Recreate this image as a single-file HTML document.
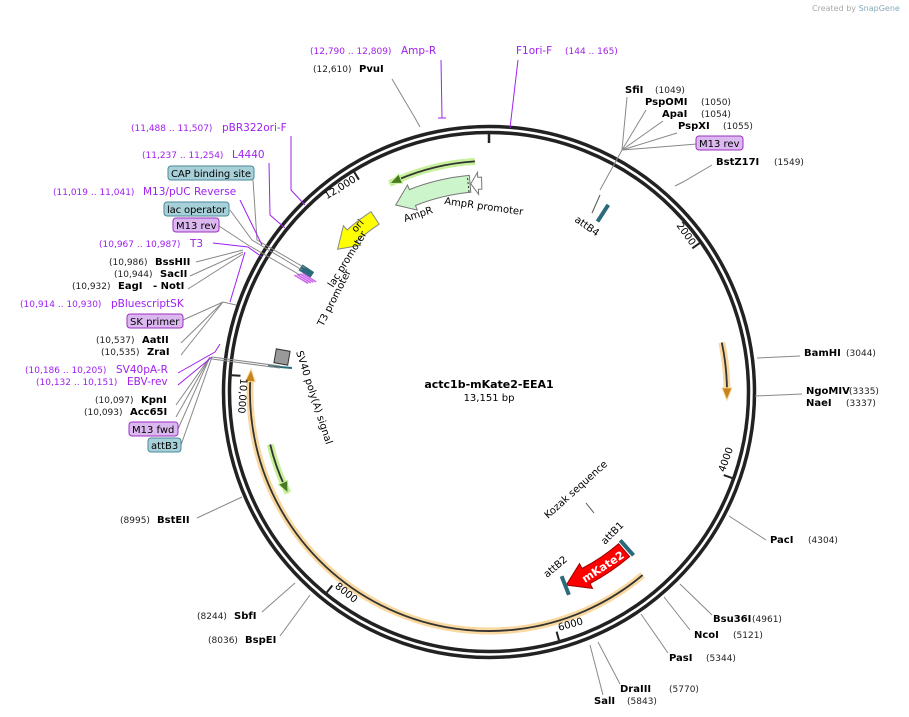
<!DOCTYPE html>
<html><head><meta charset="utf-8"><style>
body{margin:0;background:#fff;}
svg{display:block;font-family:"DejaVu Sans","Liberation Sans",sans-serif;}
.b{font-weight:bold;font-size:10px;fill:#000}
.n{font-size:9px;fill:#222}
.p{font-size:10.5px;fill:#a020f0}
.q{font-size:9px;fill:#a020f0}
.i{font-size:10px;fill:#000}
.t{font-size:10px;fill:#000}
</style></head><body>
<svg id="s" width="909" height="717" viewBox="0 0 909 717" xmlns="http://www.w3.org/2000/svg">
<text x="812" y="11" style="font-size:8px;fill:#aaa">Created by <tspan style="fill:#8ab">SnapGene</tspan></text>
<g id="feat"></g>
<circle cx="489" cy="392" r="265.5" fill="none" stroke="#222" stroke-width="3.5"/>
<circle cx="489" cy="392" r="259.5" fill="none" stroke="#222" stroke-width="3.5"/>
<g id="ticks"></g>
<g stroke="#888" stroke-width="1" fill="none">
<path d="M622 150 L627 97 M622 150 L646 110 M622 150 L663 121 M622 150 L677 133 M622 150 L697 144 M622 150 L600 190"/>
<path d="M675 186 L683 182 L712 165"/>
<path d="M757 358 L800 356"/>
<path d="M755 396 L802 394"/>
<path d="M729 516 L766 540"/>
<path d="M680 584 L712 615"/>
<path d="M664 597 L690 630"/>
<path d="M641 614 L668 653"/>
<path d="M598 642 L620 684"/>
<path d="M590 645 L603 695"/>
<path d="M420 127 L415 118 L392 79"/>
<path d="M242 497 L197 518"/>
<path d="M295 583 L262 612"/>
<path d="M310 595 L280 636"/>
<path d="M253 180 L257 240 L305 268 M230 210 L252 240 L302 270 M219 226 L248 245 L300 275"/>
<path d="M196 262 L243 250 M190 276 L243 252 M188 289 L243 254"/>
<path d="M183 320 L223 302 L236 305"/>
<path d="M181 343 L223 302 M181 355 L223 302"/>
<path d="M176 405 L210 357 M176 417 L210 357 M178 429 L210 357 M181 445 L212 357"/>
<path d="M212 357 L280 366 M212 359 L280 368"/>
</g>
<g stroke="#a020f0" stroke-width="1" fill="none">
<path d="M441 60 L442 118 M438 118 L446 118"/>
<path d="M518 60 L510 128"/>
<path d="M291 136 L291 190 L305 205"/>
<path d="M269 163 L270 215 L285 228"/>
<path d="M240 200 L262 245 M213 243 L248 247 L262 257 M230 302 L245 252"/>
<path d="M178 373 L215 352 L220 344 M178 385 L212 357"/>
</g>
<text x="625" y="93" class="b">SfiI</text><text x="655" y="93" class="n">(1049)</text>
<text x="645" y="105" class="b">PspOMI</text><text x="701" y="105" class="n">(1050)</text>
<text x="662" y="117" class="b">ApaI</text><text x="701" y="117" class="n">(1054)</text>
<text x="678" y="129" class="b">PspXI</text><text x="723" y="129" class="n">(1055)</text>
<rect x="696" y="136" width="47" height="14" rx="3" fill="#dcb8f0" stroke="#9b30c0"/><text x="699" y="147" class="i">M13 rev</text>
<text x="716" y="165" class="b">BstZ17I</text><text x="774" y="165" class="n">(1549)</text>
<text x="804" y="356" class="b">BamHI</text><text x="846" y="356" class="n">(3044)</text>
<text x="806" y="394" class="b">NgoMIV</text><text x="849" y="394" class="n">(3335)</text>
<text x="806" y="406" class="b">NaeI</text><text x="846" y="406" class="n">(3337)</text>
<text x="770" y="543" class="b">PacI</text><text x="808" y="543" class="n">(4304)</text>
<text x="713" y="622" class="b">Bsu36I</text><text x="752" y="622" class="n">(4961)</text>
<text x="694" y="638" class="b">NcoI</text><text x="733" y="638" class="n">(5121)</text>
<text x="669" y="661" class="b">PasI</text><text x="706" y="661" class="n">(5344)</text>
<text x="620" y="692" class="b">DraIII</text><text x="669" y="692" class="n">(5770)</text>
<text x="594" y="704" class="b">SalI</text><text x="627" y="704" class="n">(5843)</text>
<text x="310" y="54" class="q">(12,790 .. 12,809)</text><text x="401" y="54" class="p">Amp-R</text>
<text x="313" y="72" class="n">(12,610)</text><text x="359" y="72" class="b">PvuI</text>
<text x="516" y="54" class="p">F1ori-F</text><text x="565" y="54" class="q">(144 .. 165)</text>
<text x="131" y="131" class="q">(11,488 .. 11,507)</text><text x="222" y="131" class="p">pBR322ori-F</text>
<text x="142" y="158" class="q">(11,237 .. 11,254)</text><text x="232" y="158" class="p">L4440</text>
<rect x="168" y="166" width="86" height="14" rx="3" fill="#a8d0d8" stroke="#4a8a9a"/><text x="171" y="177" class="i" textLength="80">CAP binding site</text>
<text x="53" y="195" class="q">(11,019 .. 11,041)</text><text x="143" y="195" class="p">M13/pUC Reverse</text>
<rect x="164" y="202" width="65" height="14" rx="3" fill="#a8d0d8" stroke="#4a8a9a"/><text x="167" y="213" class="i" textLength="59">lac operator</text>
<rect x="173" y="218" width="46" height="14" rx="3" fill="#dcb8f0" stroke="#9b30c0"/><text x="176" y="229" class="i">M13 rev</text>
<text x="99" y="247" class="q">(10,967 .. 10,987)</text><text x="190" y="247" class="p">T3</text>
<text x="109" y="265" class="n">(10,986)</text><text x="155" y="265" class="b">BssHII</text>
<text x="114" y="277" class="n">(10,944)</text><text x="160" y="277" class="b">SacII</text>
<text x="72" y="289" class="n">(10,932)</text><text x="118" y="289" class="b">EagI</text><text x="153" y="289" class="b">- NotI</text>
<text x="20" y="307" class="q">(10,914 .. 10,930)</text><text x="111" y="307" class="p">pBluescriptSK</text>
<rect x="127" y="314" width="56" height="14" rx="3" fill="#dcb8f0" stroke="#9b30c0"/><text x="130" y="325" class="i">SK primer</text>
<text x="96" y="343" class="n">(10,537)</text><text x="142" y="343" class="b">AatII</text>
<text x="101" y="355" class="n">(10,535)</text><text x="147" y="355" class="b">ZraI</text>
<text x="25" y="373" class="q">(10,186 .. 10,205)</text><text x="116" y="373" class="p">SV40pA-R</text>
<text x="36" y="385" class="q">(10,132 .. 10,151)</text><text x="127" y="385" class="p">EBV-rev</text>
<text x="95" y="403" class="n">(10,097)</text><text x="141" y="403" class="b">KpnI</text>
<text x="84" y="415" class="n">(10,093)</text><text x="130" y="415" class="b">Acc65I</text>
<rect x="129" y="422" width="49" height="14" rx="3" fill="#dcb8f0" stroke="#9b30c0"/><text x="132" y="433" class="i">M13 fwd</text>
<rect x="148" y="438" width="33" height="14" rx="3" fill="#a8d0d8" stroke="#4a8a9a"/><text x="151" y="449" class="i">attB3</text>
<text x="120" y="523" class="n">(8995)</text><text x="157" y="523" class="b">BstEII</text>
<text x="197" y="619" class="n">(8244)</text><text x="234" y="619" class="b">SbfI</text>
<text x="208" y="643" class="n">(8036)</text><text x="245" y="643" class="b">BspEI</text>
<text x="405" y="222" class="t" transform="rotate(-18 405 222)">AmpR</text>
<text x="444" y="204" class="t" transform="rotate(8 444 204)">AmpR promoter</text>
<text x="333" y="288" class="t" transform="rotate(-58 333 288)">lac promoter</text>
<text x="323" y="327" class="t" transform="rotate(-63 323 327)">T3 promoter</text>
<text x="296" y="352" class="t" transform="rotate(72 296 352)">SV40 poly(A) signal</text>
<text x="548" y="519" class="t" transform="rotate(-42 548 519)">Kozak sequence</text>
<text x="605" y="545" class="t" transform="rotate(-45 605 545)">attB1</text>
<text x="547" y="578" class="t" transform="rotate(-40 547 578)">attB2</text>
<text x="574" y="221" class="t" transform="rotate(35 574 221)">attB4</text>
<path d="M586 503 L594 513 M600 195 L592 213" stroke="#555"/>
<text x="489" y="388" text-anchor="middle" style="font-size:11px;font-weight:bold">actc1b-mKate2-EEA1</text>
<text x="489" y="401" text-anchor="middle" style="font-size:10px">13,151 bp</text>
</svg>
<script>
var cx=489,cy=392,NS="http://www.w3.org/2000/svg";
function P(a,r){var t=a*Math.PI/180;return [(cx+r*Math.sin(t)).toFixed(1),(cy-r*Math.cos(t)).toFixed(1)];}
function arc(a1,a2,r){var s=P(a1,r),e=P(a2,r),l=Math.abs(a2-a1)>180?1:0,sw=a2>a1?1:0;return "M"+s+" A"+r+" "+r+" 0 "+l+" "+sw+" "+e;}
function add(par,tag,at){var e=document.createElementNS(NS,tag);for(var k in at)e.setAttribute(k,at[k]);document.getElementById(par).appendChild(e);return e;}
function arrow(a1,a2,r,w,hw,hd){var d=a2>a1?1:-1,b=a2-d*hd;var ri=r-w/2,ro=r+w/2;
 return arc(a1,b,ro)+" L"+P(b,r+hw/2)+" L"+P(a2,r)+" L"+P(b,r-hw/2)+" L"+P(b,ri)+" "+arc(b,a1,ri).replace("M","L")+" Z";}
function orange(a1,a2,r){add("feat","path",{d:arc(a1,a2-2,r),stroke:"#f9d9a0",fill:"none","stroke-width":7});
 add("feat","path",{d:arc(a1,a2-2,r),stroke:"#333",fill:"none","stroke-width":1.8});
 add("feat","path",{d:"M"+P(a2-3,r+5)+" L"+P(a2,r)+" L"+P(a2-3,r-5)+" Z",fill:"#c8841a",stroke:"#f9d9a0"});}
orange(78,92,238);orange(140,275.5,239);
function green(a1,a2,r){add("feat","path",{d:arc(a1,a2,r),stroke:"#c6f09a",fill:"none","stroke-width":7});
 add("feat","path",{d:arc(a1,a2+(a2>a1?-2:2),r),stroke:"#333",fill:"none","stroke-width":1.8});
 var b=a2+(a2>a1?-3:3);add("feat","path",{d:"M"+P(b,r+5)+" L"+P(a2,r)+" L"+P(b,r-5)+" Z",fill:"#4a7a20",stroke:"#c6f09a"});}
green(256.5,243.3,225);green(356.5,334.5,231);
add("feat","path",{d:arrow(354.8,333.5,209,17,27,5),fill:"#ccf5cc",stroke:"#777","stroke-width":1});
add("feat","path",{d:"M"+P(354.3,201)+" L"+P(354.3,217),stroke:"#333","stroke-dasharray":"2,2",fill:"none"});
add("feat","path",{d:arrow(358,355,209,12,22,2),fill:"#fff",stroke:"#777"});
add("feat","path",{d:arrow(326.8,313.3,208,15,26,5.5),fill:"#ffff00",stroke:"#888"});
var t=add("feat","text",{x:0,y:0,"font-size":"10","transform":"translate(356 233) rotate(-50)"});t.textContent="ori";
add("feat","path",{d:arrow(139.5,158.2,208,17,28,6),fill:"#ff0000",stroke:"#900"});
t=add("feat","text",{x:0,y:0,"font-size":"11","font-weight":"bold",fill:"#fff","transform":"translate(585 583) rotate(-33)"});t.textContent="mKate2";
[[139,208],[159,208],[33,212]].forEach(function(q){add("feat","path",{d:"M"+P(q[0]-0.5,q[1]-10)+" L"+P(q[0]-0.5,q[1]+10),stroke:"#2a6a7a","stroke-width":4});});
add("feat","path",{d:"M"+P(303.5,212)+" L"+P(303.5,226),stroke:"#2a6a7a","stroke-width":7});
[0,1,2,3].forEach(function(i){add("feat","path",{d:"M"+P(302.5-i*0.5,205+i*2)+" L"+P(302.5-i*0.5,221+i*2),stroke:"#cc66ee","stroke-width":1.5});});
add("feat","rect",{x:275,y:350,width:14,height:14,fill:"#999",stroke:"#333",transform:"rotate(10 282 357)"});
add("feat","path",{d:"M268 366 L292 368",stroke:"#2a6a7a","stroke-width":2});
var tk=[[2000,"2000"],[4000,"4000"],[6000,"6000"],[8000,"8000"],[10000,"10,000"],[12000,"12,000"]];
tk.forEach(function(q){var a=q[0]/13151*360;add("ticks","path",{d:"M"+P(a,258)+" L"+P(a,249),stroke:"#222","stroke-width":2});
 var e;
 if(a>90&&a<280){var p=P(a-0.6,249);e=add("ticks","text",{x:0,y:0,"font-size":"10","text-anchor":"start",transform:"translate("+p+") rotate("+(a-180)+")"});}
 else{var p=P(a-0.6,249);e=add("ticks","text",{x:0,y:0,"font-size":"10","text-anchor":"end",transform:"translate("+p+") rotate("+a+")"});}
 e.textContent=q[1];});
add("ticks","path",{d:"M"+P(0,258)+" L"+P(0,249),stroke:"#222","stroke-width":2.5});
</script>
</body></html>
